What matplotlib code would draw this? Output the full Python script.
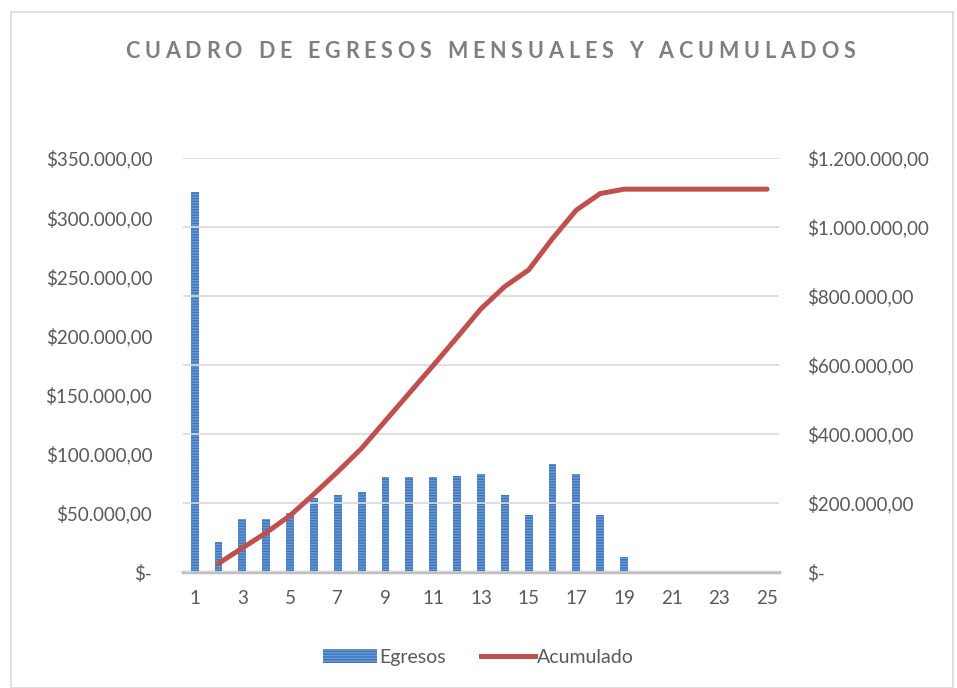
import numpy as np
import matplotlib.pyplot as plt
from matplotlib.ticker import FuncFormatter
from matplotlib.patches import Rectangle, Patch
from matplotlib.lines import Line2D

plt.rcParams['font.family'] = ['Lato', 'DejaVu Sans']

meses = list(range(1, 26))
egresos = [321000, 25100, 44500, 44500, 49600, 62300, 64800, 67900, 80000, 80000,
           80000, 81400, 82600, 64800, 47900, 91000, 82600, 47900, 12900,
           0, 0, 0, 0, 0, 0]
# el acumulado arranca en el mes 2
meses_acum = meses[1:]
acumulado = np.cumsum(egresos[1:])

titulo = 'CUADRO DE EGRESOS MENSUALES Y ACUMULADOS'
gris = '#595959'
azul = '#6A9BD8'
azul_linea = '#3F74B8'
rojo = '#C0504D'

def pesos(v, pos):
    if v == 0:
        return '$-'
    s = f'{v:,.2f}'
    s = s.replace(',', 'X').replace('.', ',').replace('X', '.')
    return '$' + s

fig = plt.figure(figsize=(9.57, 6.88), dpi=100)
fig.patches.append(Rectangle((0.011, 0.0), 0.985, 0.982, transform=fig.transFigure,
                             fill=False, edgecolor='#D9D9D9', linewidth=1.2))

ax = fig.add_axes([0.191, 0.1686, 0.623, 0.6017])
ax2 = ax.twinx()

ax.bar(meses, egresos, width=0.33, color=azul, edgecolor=azul_linea,
       linewidth=0, hatch='------', zorder=3)
ax2.plot(meses_acum, acumulado, color=rojo, linewidth=3.6, solid_capstyle='round', zorder=4)

ax.set_xlim(0.5, 25.5)
ax.set_ylim(0, 350000)
ax.set_yticks(np.arange(0, 350001, 50000))
ax2.set_ylim(0, 1200000)
ax2.set_yticks(np.arange(0, 1200001, 200000))
ax.set_xticks(range(1, 26, 2))

ax.yaxis.set_major_formatter(FuncFormatter(pesos))
ax2.yaxis.set_major_formatter(FuncFormatter(pesos))

ax2.grid(axis='y', color='#D9D9D9', linewidth=1.2, zorder=0)
ax.patch.set_visible(False)
ax2.patch.set_visible(False)
ax.set_zorder(1)
ax2.set_zorder(2)

for a in (ax, ax2):
    for s in a.spines.values():
        s.set_visible(False)
    a.tick_params(length=0, labelsize=13.5, labelcolor=gris)
ax.spines['bottom'].set_visible(True)
ax.spines['bottom'].set_color('#BFBFBF')
ax.spines['bottom'].set_linewidth(2.5)
ax.tick_params(axis='y', pad=22)
ax.tick_params(axis='x', pad=13)
ax2.tick_params(axis='y', pad=20)

# título con letras espaciadas entre x=125 y x=855
fig.canvas.draw()
r = fig.canvas.get_renderer()
letras = []
total = 0
for c in titulo:
    t = fig.text(0, 0, c, fontsize=15.5, fontweight='bold', color='#7F7F7F', va='center')
    w = t.get_window_extent(r).width if c != ' ' else 6
    letras.append((t, w))
    total += w
esp = (730 - total) / (len(titulo) - 1)
x = 125
for t, w in letras:
    t.set_position((x / 957, 1 - 51 / 688))
    x += w + esp

handles = [Patch(facecolor=azul, edgecolor=azul_linea, linewidth=0, hatch='------'),
           Line2D([0], [0], color=rojo, linewidth=3.6)]
fig.legend(handles, ['Egresos', 'Acumulado'], loc='center', bbox_to_anchor=(0.5, 0.045),
           ncol=2, frameon=False, fontsize=14, labelcolor=gris, handlelength=2.8,
           handletextpad=0.1, columnspacing=1.8)

fig.savefig('out.png', dpi=100)
